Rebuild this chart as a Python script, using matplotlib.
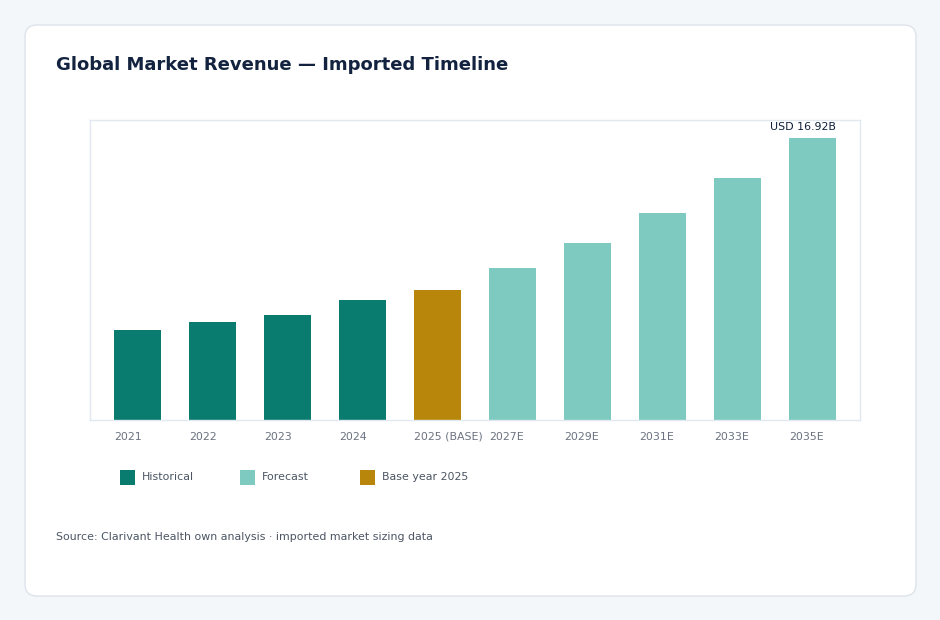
import matplotlib.pyplot as plt
import matplotlib.patches as mpatches
from matplotlib.transforms import IdentityTransform
import numpy as np

# values in USD billions
years = ["2021", "2022", "2023", "2024", "2025 (BASE)",
         "2027E", "2029E", "2031E", "2033E", "2035E"]
revenue = [5.43, 5.86, 6.33, 7.22, 7.82, 9.14, 10.64, 12.43, 14.53, 16.92]
kind = ["hist", "hist", "hist", "hist", "base",
        "fc", "fc", "fc", "fc", "fc"]

colors = {"hist": "#0a7c6f", "fc": "#7ec9c0", "base": "#b8860b"}
legend_items = [("Historical", "hist"), ("Forecast", "fc"), ("Base year 2025", "base")]

W, H = 940, 620
small = 7.9
fig = plt.figure(figsize=(W / 100, H / 100), dpi=100)
fig.patch.set_facecolor("#f4f7fa")

# white card behind everything
card = mpatches.FancyBboxPatch(
    (25, H - 596), 891, 571,
    boxstyle="round,pad=0,rounding_size=12",
    transform=IdentityTransform(),
    facecolor="white", edgecolor="#dde3ea", linewidth=1, zorder=-5,
)
fig.patches.append(card)

ax = fig.add_axes([90 / W, (H - 420) / H, 770 / W, 300 / H])
ax.set_zorder(2)
ax.set_facecolor("white")

x = np.arange(len(years))
w = 0.627
ax.bar(x, revenue, width=w, color=[colors[k] for k in kind], zorder=2)

ax.set_xlim(-0.633, len(years) - 1 + 0.633)
ax.set_ylim(0, 18)
ax.set_yticks([])
ax.set_xticks(x - w / 2)
ax.set_xticklabels(years, ha="left", va="baseline", fontsize=small, color="#6b7280")
ax.tick_params(axis="x", length=0, pad=14.2)
for s in ax.spines.values():
    s.set_color("#e2e8f0")
    s.set_linewidth(1)

# label on the last bar
ax.annotate(f"USD {revenue[-1]:.2f}B", (x[-1] + w / 2, revenue[-1]),
            xytext=(0, 4), textcoords="offset points",
            ha="right", va="bottom", fontsize=small, color="#0f1f3a")

fig.text(56 / W, 1 - 65 / H, "Global Market Revenue \u2014 Imported Timeline",
         fontsize=13, fontweight="bold", color="#13233f", va="center")

# legend
for i, (name, k) in enumerate(legend_items):
    lx = 120 + i * 120
    fig.patches.append(mpatches.Rectangle(
        (lx, H - 485), 15, 15, transform=IdentityTransform(),
        facecolor=colors[k], edgecolor="none"))
    fig.text((lx + 22) / W, 1 - 477 / H, name, fontsize=small,
             color="#4b5563", va="center")

fig.text(56 / W, 1 - 537 / H,
         "Source: Clarivant Health own analysis \u00b7 imported market sizing data",
         fontsize=small, color="#4b5563", va="center")

fig.savefig("out.png", dpi=100, facecolor=fig.get_facecolor())
